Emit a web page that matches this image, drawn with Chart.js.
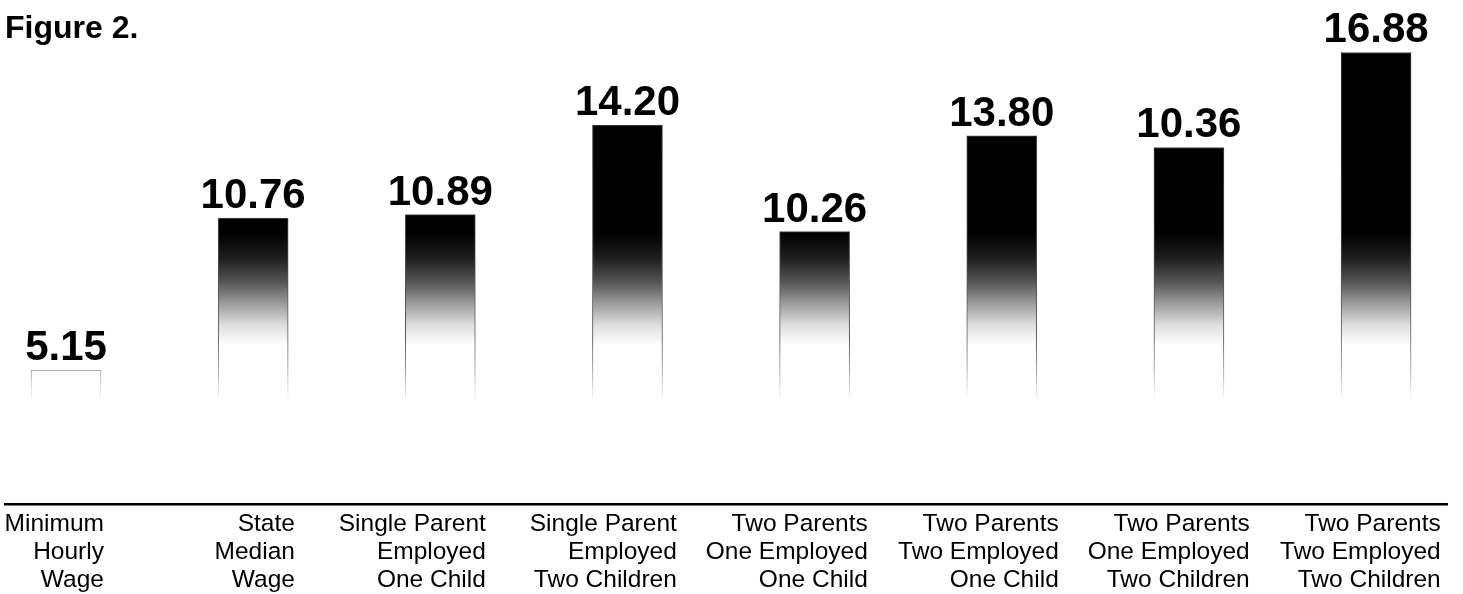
<!DOCTYPE html>
<html>
<head>
<meta charset="utf-8">
<script src="https://cdn.jsdelivr.net/npm/chart.js@4.4.1/dist/chart.umd.min.js"></script>
<style>
  html, body { margin: 0; padding: 0; background: #fff; }
  #wrap { width: 1463px; height: 594px; }
</style>
</head>
<body>
<div id="wrap"><canvas id="chart"></canvas></div>
<script>
const categories = [
  ["Minimum", "Hourly", "Wage"],
  ["State", "Median", "Wage"],
  ["Single Parent", "Employed", "One Child"],
  ["Single Parent", "Employed", "Two Children"],
  ["Two Parents", "One Employed", "One Child"],
  ["Two Parents", "Two Employed", "One Child"],
  ["Two Parents", "One Employed", "Two Children"],
  ["Two Parents", "Two Employed", "Two Children"]
]
// numbers printed above the bars
const printedWages = [5.15, 10.76, 10.89, 14.20, 10.26, 13.80, 10.36, 16.88]
// bar tops as drawn in the figure (the 10.36 bar is printed much taller than its value)
const barHeights = [5.15, 10.76, 10.89, 14.20, 10.26, 13.80, 13.37, 16.88]

const FONT = '"Liberation Sans", Arial, Helvetica, sans-serif'
const Y_MIN = 0.2

function gradientFor(context, stops) {
  const { ctx, chartArea } = context.chart
  if (!chartArea) return '#000'
  const h = chartArea.bottom - chartArea.top
  const g = ctx.createLinearGradient(0, chartArea.top, 0, chartArea.bottom)
  stops.forEach(([y, c]) => {
    g.addColorStop(Math.min(1, Math.max(0, (y - chartArea.top) / h)), c)
  })
  return g
}

// black at the top, speckled grey, white toward the bottom
function fillGradient(context) {
  return gradientFor(context, [
    [0, '#000'], [232, '#000'], [258, '#1e1e1e'], [282, '#555'],
    [303, '#9a9a9a'], [325, '#dedede'], [345, '#fff'], [600, '#fff']
  ])
}

function edgeGradient(context) {
  return gradientFor(context, [
    [0, '#444'], [340, '#555'], [370, '#999'], [390, '#ddd'], [402, '#fff'], [600, '#fff']
  ])
}

const valueLabels = {
  id: 'valueLabels',
  afterDatasetsDraw(chart) {
    const ctx = chart.ctx
    const bars = chart.getDatasetMeta(0).data
    ctx.save()
    ctx.font = 'bold 42px ' + FONT
    ctx.fillStyle = '#000'
    ctx.textAlign = 'center'
    ctx.textBaseline = 'alphabetic'
    bars.forEach((bar, i) => {
      ctx.fillText(printedWages[i].toFixed(2), bar.x, bar.y - 10)
    })
    ctx.restore()
  }
}

const ctx = document.getElementById('chart')
const chart = new Chart(ctx, {
  type: 'bar',
  data: {
    datasets: [{
      data: barHeights.map((v, i) => ({ x: i, y: v })),
      backgroundColor: fillGradient,
      borderColor: edgeGradient,
      borderWidth: { left: 1, right: 1, top: 1, bottom: 0 },
      borderSkipped: false,
      barThickness: 70,
      base: Y_MIN
    }]
  },
  options: {
    responsive: true,
    maintainAspectRatio: false,
    animation: false,
    layout: { padding: { left: 5, right: 16, top: 0, bottom: -6 } },
    plugins: {
      legend: { display: false },
      tooltip: { enabled: false },
      title: {
        display: true,
        text: 'Figure 2.',
        align: 'start',
        color: '#000',
        font: { family: FONT, size: 32, weight: 'bold', lineHeight: 1.2 },
        padding: { top: 10, bottom: 0 }
      }
    },
    scales: {
      x: { type: 'linear', min: -0.326, max: 7.379, offset: false, display: false },
      labels: {
        type: 'linear',
        position: 'bottom',
        min: -0.518,
        max: 7.033,
        offset: false,
        grid: { display: false, drawTicks: false },
        border: { display: true, color: '#000', width: 2.5, z: 1 },
        afterBuildTicks: (scale) => {
          scale.ticks = categories.map((_, i) => ({ value: i }))
        },
        afterFit: (scale) => {
          scale.paddingLeft = 0
          scale.paddingRight = 0
        },
        ticks: {
          autoSkip: false,
          maxRotation: 0,
          align: 'end',
          padding: 6,
          color: '#000',
          font: { family: FONT, size: 24.5, lineHeight: '28px' },
          callback: (v) => categories[v]
        }
      },
      y: { display: false, min: Y_MIN, max: 17.03 }
    }
  },
  plugins: [valueLabels]
})
</script>
</body>
</html>
